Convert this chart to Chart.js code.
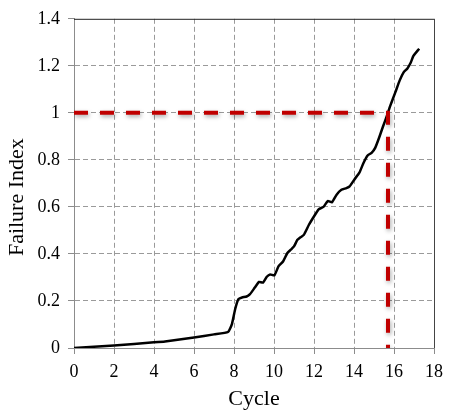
<!DOCTYPE html>
<html>
<head>
<meta charset="utf-8">
<script src="https://cdn.jsdelivr.net/npm/chart.js@4/dist/chart.umd.min.js"></script>
<style>
  html, body { margin: 0; padding: 0; background: #fff; }
  #wrap { width: 450px; height: 413px; }
</style>
</head>
<body>
<div id="wrap"><canvas id="failureChart" width="450" height="413"></canvas></div>
<script>
// ─────────────────────────────────────────────
// Data
// ─────────────────────────────────────────────
const cycle = [0, 2, 4, 4.55, 6, 7, 7.7, 7.9, 8.06, 8.22, 8.4, 8.63, 8.8,
  9.04, 9.25, 9.45, 9.64, 9.81, 10.02, 10.23, 10.46, 10.67, 10.84,
  11.0, 11.17, 11.33, 11.49, 11.74, 11.98, 12.23, 12.47, 12.69, 12.9,
  13.13, 13.37, 13.62, 13.78, 14.03, 14.27, 14.48, 14.68, 14.88,
  15.06, 15.25, 15.45, 15.63, 15.82, 16.07, 16.28, 16.48, 16.67, 16.84, 16.97, 17.26];
const failureIndex = [0, 0.011, 0.024, 0.028, 0.045, 0.058, 0.068, 0.103, 0.166, 0.208, 0.215, 0.219, 0.229,
  0.257, 0.281, 0.278, 0.303, 0.313, 0.309, 0.348, 0.369, 0.404, 0.418,
  0.432, 0.46, 0.471, 0.481, 0.523, 0.557, 0.59, 0.6, 0.625, 0.62,
  0.652, 0.673, 0.68, 0.687, 0.718, 0.746, 0.788, 0.819, 0.83,
  0.851, 0.893, 0.942, 0.984, 1.032, 1.088, 1.137, 1.172, 1.189, 1.214, 1.242, 1.273];

// failure threshold guide (index = 1 reached at cycle ~15.7)
const guideX = [0, 15.7, 15.7];
const guideY = [1, 1, 0];

const xTicks = { min: 0, max: 18, step: 2 };
const yTicks = { min: 0, max: 1.4, step: 0.2 };

const toPoints = (xs, ys) => xs.map((x, i) => ({ x, y: ys[i] }));

const FONT = 'Liberation Serif';
const GRID = '#9a9a9a';
const AXIS = '#8c8c8c';

// shadow under the red guide line + dark frame top/right
const framePlugin = {
  id: 'frame',
  beforeDatasetDraw(chart, args) {
    if (args.index !== 0) return;
    const ctx = chart.ctx;
    ctx.save();
    ctx.shadowColor = 'rgba(0,0,0,0.35)';
    ctx.shadowBlur = 4;
    ctx.shadowOffsetX = 1;
    ctx.shadowOffsetY = 2;
  },
  afterDatasetDraw(chart, args) {
    if (args.index === 0) chart.ctx.restore();
  },
  beforeDatasetsDraw(chart) {
    const { ctx, chartArea: a } = chart;
    ctx.save();
    ctx.lineWidth = 1;
    ctx.strokeStyle = '#222';
    ctx.beginPath();
    ctx.moveTo(a.left, a.top + 0.5);
    ctx.lineTo(a.right, a.top + 0.5);
    ctx.stroke();
    ctx.strokeStyle = '#444';
    ctx.beginPath();
    ctx.moveTo(a.right + 0.5, a.top);
    ctx.lineTo(a.right + 0.5, a.bottom);
    ctx.stroke();
    ctx.restore();
  }
};

new Chart(document.getElementById('failureChart'), {
  type: 'line',
  data: {
    datasets: [
      {
        data: toPoints(guideX, guideY),
        borderColor: '#c00000',
        borderWidth: 4,
        borderDash: [14, 12],
        borderCapStyle: 'butt',
        pointRadius: 0,
        tension: 0
      },
      {
        data: toPoints(cycle, failureIndex),
        borderColor: '#000',
        borderWidth: 2.5,
        pointRadius: 0,
        tension: 0.15
      }
    ]
  },
  options: {
    responsive: false,
    animation: false,
    layout: { padding: { top: 14, right: 9, left: 0, bottom: 0 } },
    plugins: { legend: { display: false }, tooltip: { enabled: false } },
    scales: {
      x: {
        type: 'linear',
        min: xTicks.min, max: xTicks.max,
        afterFit: s => { s.height = 65; },
        ticks: {
          stepSize: xTicks.step,
          color: '#000',
          padding: 7,
          font: { family: FONT, size: 18 }
        },
        grid: {
          color: c => (c.tick && (c.tick.value === xTicks.min || c.tick.value === xTicks.max)) ? 'rgba(0,0,0,0)' : GRID,
          tickColor: AXIS,
          tickLength: 6
        },
        border: { color: AXIS, width: 1, dash: [5, 3] },
        title: {
          display: true,
          text: 'Cycle',
          color: '#000',
          padding: { top: 0, bottom: 1 },
          font: { family: FONT, size: 22 }
        }
      },
      y: {
        min: yTicks.min, max: yTicks.max,
        afterFit: s => { s.width = 74; },
        ticks: {
          stepSize: yTicks.step,
          color: '#000',
          padding: 8,
          font: { family: FONT, size: 18 },
          callback: v => String(+v.toFixed(1))
        },
        grid: {
          color: c => (c.tick && (Math.abs(c.tick.value - yTicks.min) < 1e-6 || Math.abs(c.tick.value - yTicks.max) < 1e-6)) ? 'rgba(0,0,0,0)' : GRID,
          tickColor: AXIS,
          tickLength: 6
        },
        border: { color: AXIS, width: 1, dash: [5, 3] },
        title: {
          display: true,
          // trailing spaces push the label a little below centre, as in the original
          text: 'Failure Index     ',
          color: '#000',
          padding: { top: 4, bottom: 0 },
          font: { family: FONT, size: 22 }
        }
      }
    }
  },
  plugins: [framePlugin]
});
</script>
</body>
</html>
